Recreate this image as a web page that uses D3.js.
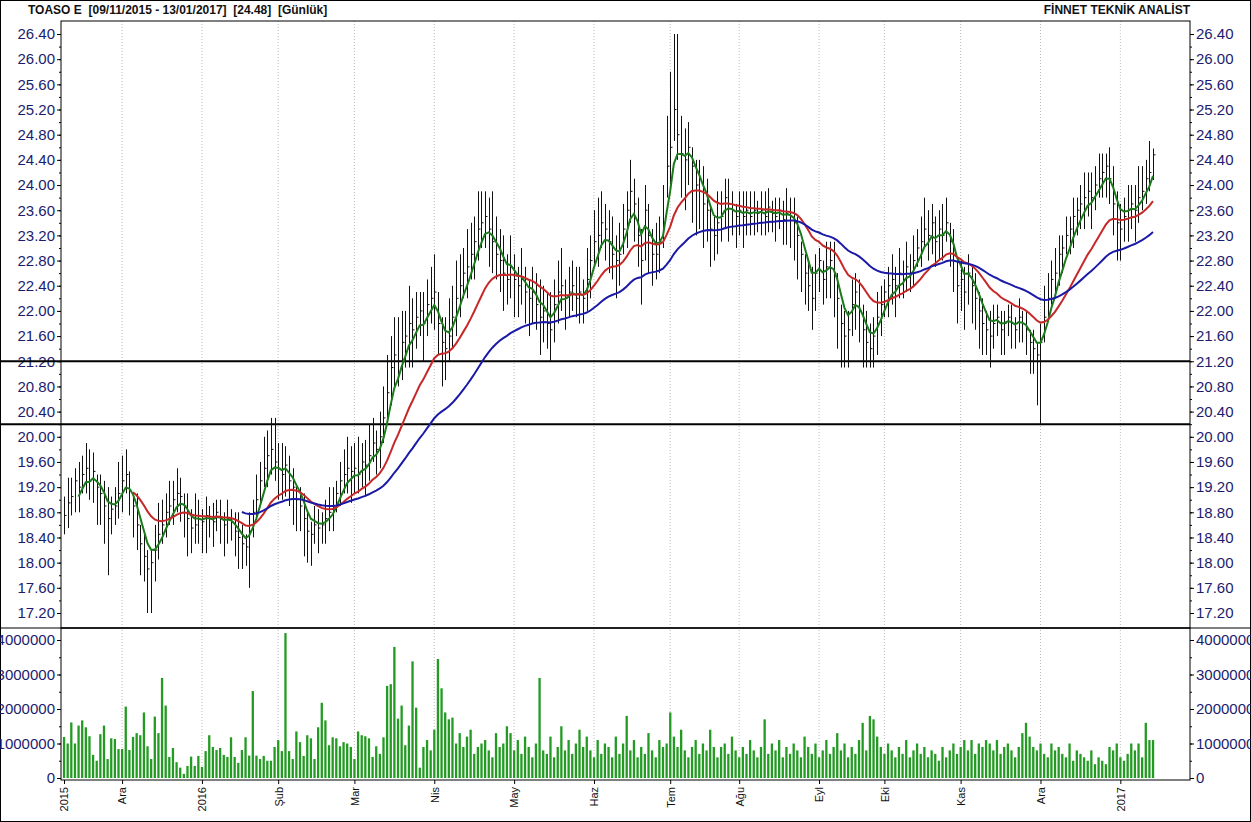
<!DOCTYPE html>
<html>
<head>
<meta charset="utf-8">
<script src="https://cdn.jsdelivr.net/npm/d3@7"></script>
<style>
  body { margin: 0; background: #fff; }
  svg { display: block; font-family: Arial, "Liberation Sans", sans-serif; }
</style>
</head>
<body>
<svg id="chart" width="1251" height="822"></svg>
<script>
const W = 1251, H = 822;

// closing prices, one per trading day (09/11/2015 .. 13/01/2017)
const closes = [
  18.75,18.95,19.05,19.30,19.20,19.40,19.50,19.30,19.45,19.20,
  19.10,18.90,18.70,18.85,18.90,19.10,19.30,19.40,19.15,18.90,
  18.60,18.30,18.10,17.90,18.00,18.20,18.45,18.60,18.80,18.90,
  19.00,19.10,19.05,18.90,18.70,18.55,18.60,18.70,18.65,18.75,
  18.70,18.65,18.80,18.70,18.60,18.70,18.65,18.50,18.40,18.30,
  18.25,18.50,18.80,19.00,19.30,19.50,19.70,19.80,19.60,19.50,
  19.40,19.55,19.30,19.20,19.00,18.90,18.70,18.50,18.45,18.60,
  18.55,18.60,18.70,18.80,18.90,19.10,19.30,19.40,19.50,19.45,
  19.50,19.40,19.60,19.55,19.70,19.90,19.80,20.00,20.30,20.70,
  21.10,21.30,21.20,21.50,21.60,21.80,21.70,21.90,22.00,21.80,
  22.10,22.20,22.30,21.80,21.50,21.40,21.60,21.90,22.20,22.40,
  22.60,22.70,22.90,23.10,23.30,23.40,23.50,23.30,23.10,22.90,
  22.80,22.60,22.50,22.70,22.50,22.40,22.50,22.30,22.20,22.30,
  22.10,21.90,22.00,21.80,21.70,22.10,22.30,22.40,22.20,22.30,
  22.40,22.20,22.30,22.20,22.50,22.80,23.10,23.20,23.40,23.30,
  23.10,22.90,22.80,22.90,23.30,23.60,23.90,23.70,23.20,22.80,
  23.60,23.20,22.90,22.90,23.10,23.40,24.30,24.60,25.20,24.80,
  24.50,24.40,24.60,24.30,24.00,23.90,23.70,23.60,23.30,23.20,
  23.40,23.50,23.80,23.70,23.60,23.50,23.60,23.50,23.60,23.50,
  23.60,23.55,23.60,23.50,23.65,23.55,23.50,23.60,23.45,23.55,
  23.50,23.40,23.20,22.90,22.60,22.40,22.20,22.60,22.80,22.50,
  22.70,22.80,22.60,22.20,21.80,21.60,21.70,22.10,22.30,22.00,
  21.70,21.50,21.40,21.60,21.90,22.10,22.30,22.40,22.50,22.40,
  22.60,22.50,22.70,22.60,22.80,23.00,23.10,23.30,23.20,23.40,
  23.10,23.30,23.20,23.40,23.10,22.80,22.40,22.50,22.30,22.60,
  22.40,22.20,22.00,21.80,21.70,21.60,21.80,21.90,21.70,21.80,
  21.90,21.80,21.70,21.90,21.80,21.70,21.50,21.40,21.30,21.50,
  21.90,22.20,22.50,22.60,22.90,23.00,23.20,23.30,23.50,23.60,
  23.70,23.80,23.90,23.80,24.00,24.10,24.20,24.30,24.10,23.70,
  23.40,23.30,23.50,23.60,23.70,23.60,23.80,23.90,24.10,24.20,
  24.48
];

// distance from close up to the day's high
const hiGap = [
  .3,.4,.3,.2,.4,.3,.4,.5,.3,.2, .3,.4,.5,.2,.3,.5,.4,.4,.3,.2,
  .5,.3,.4,.3,.2,.4,.5,.4,.3,.4, .3,.4,.3,.2,.4,.3,.5,.3,.2,.3,
  .2,.3,.2,.3,.2,.3,.2,.3,.4,.3, .2,.3,.2,.4,.3,.5,.4,.5,.7,.4,
  .5,.3,.4,.3,.2,.3,.4,.3,.2,.3, .3,.2,.3,.4,.3,.2,.3,.4,.5,.4,
  .4,.6,.3,.4,.5,.4,.3,.4,.5,.6, .5,.6,.7,.5,.4,.6,.5,.4,.3,.5,
  .4,.5,.6,.5,.4,.5,.6,.5,.6,.5, .4,.6,.5,.4,.6,.5,.4,.5,.8,.6,
  .5,.6,.4,.5,.4,.3,.5,.4,.3,.4, .5,.6,.4,.5,.6,.4,.5,.6,.3,.4,
  .4,.5,.4,.3,.5,.4,.5,.6,.5,.4, .5,.6,.4,.5,.4,.3,.5,.4,.6,.5,
  .4,.5,.4,.5,.4,.6,.8,1.2,1.2,1.6, .6,.5,.4,.3,.4,.5,.6,.5,.4,.3,
  .5,.4,.3,.4,.3,.2,.3,.4,.3,.4, .3,.2,.3,.4,.3,.2,.3,.2,.3,.4,
  .3,.4,.3,.2,.3,.4,.5,.3,.2,.3, .4,.3,.5,.4,.3,.4,.3,.4,.3,.5,
  .4,.5,.4,.3,.4,.3,.2,.3,.4,.3, .4,.3,.4,.3,.4,.3,.4,.5,.4,.3,
  .4,.3,.5,.4,.3,.5,.4,.3,.4,.3, .3,.4,.3,.4,.3,.4,.3,.2,.3,.2,
  .2,.3,.2,.3,.2,.3,.2,.3,.2,.3, .5,.4,.3,.4,.3,.2,.3,.2,.3,.2,
  .3,.4,.3,.4,.3,.4,.3,.2,.5,.6, .5,.4,.3,.4,.3,.4,.5,.4,.3,.5,
  .1
];

// distance from close down to the day's low
const loGap = [
  .3,.4,.3,.5,.4,.3,.4,.3,.5,.6, .5,.6,.9,.4,.3,.4,.5,.3,.4,.5,
  .4,.5,.4,.7,.8,.5,.4,.3,.4,.3, .4,.3,.4,.5,.6,.4,.3,.4,.5,.6,
  .3,.4,.3,.4,.5,.4,.3,.4,.5,.4, .3,.9,.4,.3,.4,.3,.5,.4,.3,.5,
  .4,.5,.4,.6,.5,.4,.6,.5,.5,.3, .4,.3,.4,.3,.4,.3,.4,.3,.4,.5,
  .4,.3,.4,.5,.4,.3,.4,.5,.4,.5, .6,.5,.4,.6,.5,.7,.6,.5,.4,.6,
  .5,.4,.6,.5,.7,.5,.4,.5,.6,.5, .4,.5,.4,.6,.5,.4,.5,.6,.5,.4,
  .5,.6,.4,.5,.6,.5,.4,.5,.6,.5, .4,.6,.5,.4,.5,.6,.5,.4,.5,.4,
  .4,.3,.5,.4,.5,.6,.4,.5,.4,.5, .5,.4,.6,.5,.4,.6,.5,.6,.5,.7,
  .8,.6,.5,.4,.5,.4,.5,.6,.5,.4, .7,.8,.6,.9,.8,.6,.7,.5,.6,.4,
  .5,.4,.5,.6,.4,.5,.4,.5,.4,.3, .4,.3,.4,.3,.4,.3,.4,.3,.4,.5,
  .5,.6,.7,.6,.5,.4,.5,.6,.5,.4, .5,.6,.7,.8,.7,.5,.6,.5,.6,.5,
  .6,.4,.3,.5,.6,.5,.4,.5,.4,.5, .4,.3,.4,.3,.4,.3,.4,.3,.4,.5,
  .4,.5,.4,.3,.4,.5,.6,.5,.6,.5, .6,.5,.6,.5,.4,.5,.4,.3,.4,.5,
  .3,.4,.3,.4,.3,.4,.5,.4,.8,1.3, .4,.3,.4,.3,.5,.4,.3,.4,.5,.4,
  .4,.5,.4,.5,.4,.3,.4,.5,.4,.5, .6,.5,.4,.5,.4,.5,.4,.3,.4,.3,
  .4
];

// daily volume, millions of shares
const volume = [
  1.19,1.0,1.61,1.0,1.52,1.67,1.47,1.21,0.67,0.5,
  1.27,1.52,0.55,1.15,1.13,0.84,0.84,2.07,0.81,1.19,
  1.3,1.24,1.9,0.92,0.55,1.78,1.3,2.9,2.1,0.61,
  0.87,0.46,0.3,0.12,0.35,0.62,0.35,0.64,0.32,0.78,
  1.24,0.9,0.81,0.87,0.67,0.61,1.18,0.61,0.44,0.81,
  1.18,0.65,2.52,0.65,0.55,0.64,0.5,0.5,0.9,1.1,
  0.78,4.2,0.78,0.55,1.35,1.04,0.64,1.24,1.15,0.55,
  1.47,2.18,1.67,0.95,1.18,1.15,0.92,1.04,1.0,0.9,
  0.55,1.35,1.24,1.21,1.15,0.61,0.92,0.7,1.18,2.67,
  2.72,3.8,1.72,2.1,0.95,1.52,3.38,2.04,0.3,0.9,
  1.1,0.8,1.4,3.45,2.6,1.9,1.7,1.75,1.0,1.3,
  0.9,1.2,1.4,0.7,0.9,1.0,1.1,0.8,0.6,1.3,
  0.9,1.0,1.5,1.3,0.8,1.1,0.7,1.2,0.9,0.6,
  1.0,2.9,0.8,0.7,1.2,0.6,0.9,1.5,0.8,1.1,
  0.7,1.0,1.4,0.9,1.2,0.8,0.6,1.1,0.7,1.0,
  0.9,0.6,1.2,0.7,1.0,1.8,0.8,1.1,0.6,0.9,
  0.7,1.3,0.8,0.6,1.1,0.9,1.0,1.9,1.2,0.9,
  1.4,0.8,0.6,0.9,1.1,0.7,1.0,0.8,1.4,0.9,
  0.6,0.9,1.0,0.7,1.2,0.8,0.6,0.9,0.7,1.1,
  0.8,0.6,0.9,1.7,0.7,1.0,0.8,1.1,0.6,0.9,
  0.7,1.0,0.8,0.6,1.2,0.9,0.7,1.0,0.6,0.8,
  1.1,0.7,0.9,1.3,0.8,1.0,0.6,0.9,0.7,1.1,
  1.6,0.8,1.8,1.7,1.2,0.9,0.7,1.0,0.8,0.6,
  0.9,0.7,1.1,0.6,0.8,1.0,0.7,0.9,0.6,0.8,
  0.7,0.5,0.9,0.6,0.8,1.0,0.7,0.9,1.1,0.8,
  1.1,0.7,1.0,0.9,1.1,1.0,0.8,1.1,0.7,0.9,
  1.0,0.8,0.6,0.9,1.3,1.6,1.2,0.9,0.8,1.0,
  0.7,0.6,1.0,0.8,0.9,0.7,0.6,1.0,0.5,0.8,
  0.7,0.6,0.5,0.8,0.4,0.6,0.5,0.4,0.9,0.8,
  1.0,0.6,0.5,0.7,1.0,0.8,1.0,0.6,1.6,1.1,
  1.1
];

const monthIdx = [0, 16, 38, 59, 80, 102, 124, 146, 167, 186, 208, 226, 247, 269, 291];
const monthLabels = ['2015', 'Ara', '2016', 'Şub', 'Mar', 'Nis', 'May', 'Haz', 'Tem', 'Ağu', 'Eyl', 'Eki', 'Kas', 'Ara', '2017'];
const supportLevels = [21.2, 20.2];
const averages = [
  { period: 5, color: '#1b7a1b' },
  { period: 20, color: '#c62828' },
  { period: 50, color: '#1a1aa6' },
];

const LEFT = 61, RIGHT = 1190, TOP = 21, MID = 628, BOT = 780;
const AXIS = '#1c1c6e';

const svg = d3.select('#chart');
svg.append('rect').attr('x', 0.5).attr('y', 0.5).attr('width', W - 1).attr('height', H - 1)
  .attr('fill', '#fff').attr('stroke', '#000');

svg.append('text').attr('x', 28).attr('y', 14).attr('font-size', 12).attr('font-weight', 'bold')
  .attr('fill', '#111').attr('xml:space', 'preserve')
  .text('TOASO E  [09/11/2015 - 13/01/2017]  [24.48]  [Günlük]');
svg.append('text').attr('x', RIGHT).attr('y', 14).attr('font-size', 12).attr('font-weight', 'bold')
  .attr('fill', '#111').attr('text-anchor', 'end').text('FİNNET TEKNİK ANALİST');

const x = d3.scaleLinear().domain([0, closes.length - 1]).range([64, 1153]);
const y = d3.scaleLinear().domain([17.2, 26.4]).range([613, 34]);
const yv = d3.scaleLinear().domain([0, 4]).range([778, 640]);

// month gridlines
svg.append('g').selectAll('line').data(monthIdx.slice(1)).join('line')
  .attr('x1', d => x(d)).attr('x2', d => x(d)).attr('y1', TOP).attr('y2', BOT)
  .attr('stroke', '#bbb').attr('stroke-dasharray', '1,2');

// price axes
const priceTicks = d3.range(0, 24).map(i => 17.2 + i * 0.4);
const minorTicks = d3.range(0, 47).map(i => 17.2 + i * 0.2);
const fmt = d3.format('.2f');
const leftAx = svg.append('g').attr('transform', `translate(${LEFT},0)`)
  .call(d3.axisLeft(y).tickValues(priceTicks).tickFormat(fmt).tickSize(4).tickPadding(2));
const rightAx = svg.append('g').attr('transform', `translate(${RIGHT},0)`)
  .call(d3.axisRight(y).tickValues(priceTicks).tickFormat(fmt).tickSize(4).tickPadding(2));
svg.append('g').attr('transform', `translate(${LEFT},0)`)
  .call(d3.axisLeft(y).tickValues(minorTicks).tickFormat('').tickSize(2)).select('.domain').remove();
svg.append('g').attr('transform', `translate(${RIGHT},0)`)
  .call(d3.axisRight(y).tickValues(minorTicks).tickFormat('').tickSize(2)).select('.domain').remove();

// volume axes
const volTicks = [0, 1, 2, 3, 4];
const volFmt = d => d3.format('d')(d * 1e6);
svg.append('g').attr('transform', `translate(${LEFT},0)`)
  .call(d3.axisLeft(yv).tickValues(volTicks).tickFormat(volFmt).tickSize(4).tickPadding(2));
svg.append('g').attr('transform', `translate(${RIGHT},0)`)
  .call(d3.axisRight(yv).tickValues(volTicks).tickFormat(volFmt).tickSize(4).tickPadding(2));
svg.append('g').attr('transform', `translate(${LEFT},0)`)
  .call(d3.axisLeft(yv).tickValues(d3.range(0, 4.01, 0.5)).tickFormat('').tickSize(2)).select('.domain').remove();
svg.append('g').attr('transform', `translate(${RIGHT},0)`)
  .call(d3.axisRight(yv).tickValues(d3.range(0, 4.01, 0.5)).tickFormat('').tickSize(2)).select('.domain').remove();
svg.selectAll('.tick text').attr('font-size', 15).attr('fill', AXIS)
  .attr('font-family', 'Arial, "Liberation Sans", sans-serif');
svg.selectAll('.domain').remove();

// bottom month labels
const xAx = svg.append('g').attr('transform', `translate(0,${BOT})`)
  .call(d3.axisBottom(x).tickValues(monthIdx).tickFormat((d, i) => monthLabels[i]).tickSize(4));
xAx.select('.domain').remove();
xAx.selectAll('.tick text').attr('font-size', 11).attr('fill', '#111')
  .attr('font-family', 'Arial, "Liberation Sans", sans-serif')
  .attr('transform', 'rotate(-90)').attr('text-anchor', 'end')
  .attr('x', -7).attr('y', 0).attr('dy', '0.35em');

// panel frames
svg.append('rect').attr('x', LEFT).attr('y', TOP).attr('width', RIGHT - LEFT).attr('height', MID - TOP)
  .attr('fill', 'none').attr('stroke', '#000');
svg.append('rect').attr('x', LEFT).attr('y', MID).attr('width', RIGHT - LEFT).attr('height', BOT - MID)
  .attr('fill', 'none').attr('stroke', '#000');
svg.append('line').attr('x1', 0).attr('x2', W).attr('y1', MID).attr('y2', MID).attr('stroke', '#000');

// volume bars
svg.append('g').selectAll('rect').data(volume).join('rect')
  .attr('x', (d, i) => x(i) - 1.1).attr('width', 2.3)
  .attr('y', d => yv(d)).attr('height', d => yv(0) - yv(d))
  .attr('fill', '#239b23');

// support lines
svg.append('g').selectAll('line').data(supportLevels).join('line')
  .attr('x1', 0).attr('x2', RIGHT).attr('y1', d => y(d)).attr('y2', d => y(d))
  .attr('stroke', '#000').attr('stroke-width', 2);

// price bars (high-low with close tick)
const bars = svg.append('g').attr('stroke', '#111');
closes.forEach((c, i) => {
  const px = Math.round(x(i)) + 0.5;
  bars.append('line').attr('x1', px).attr('x2', px)
    .attr('y1', y(c + hiGap[i])).attr('y2', y(c - loGap[i]));
  bars.append('line').attr('x1', px).attr('x2', px + 2)
    .attr('y1', y(c)).attr('y2', y(c));
});

// exponential moving averages of the closes
averages.forEach(({ period, color }) => {
  const k = 2 / (period + 1);
  const pts = [];
  let v = d3.mean(closes.slice(0, period));
  pts.push([period - 1, v]);
  for (let i = period; i < closes.length; i++) {
    v = closes[i] * k + v * (1 - k);
    pts.push([i, v]);
  }
  svg.append('path').datum(pts)
    .attr('fill', 'none').attr('stroke', color).attr('stroke-width', 2)
    .attr('d', d3.line().x(d => x(d[0])).y(d => y(d[1])));
});
</script>
</body>
</html>
